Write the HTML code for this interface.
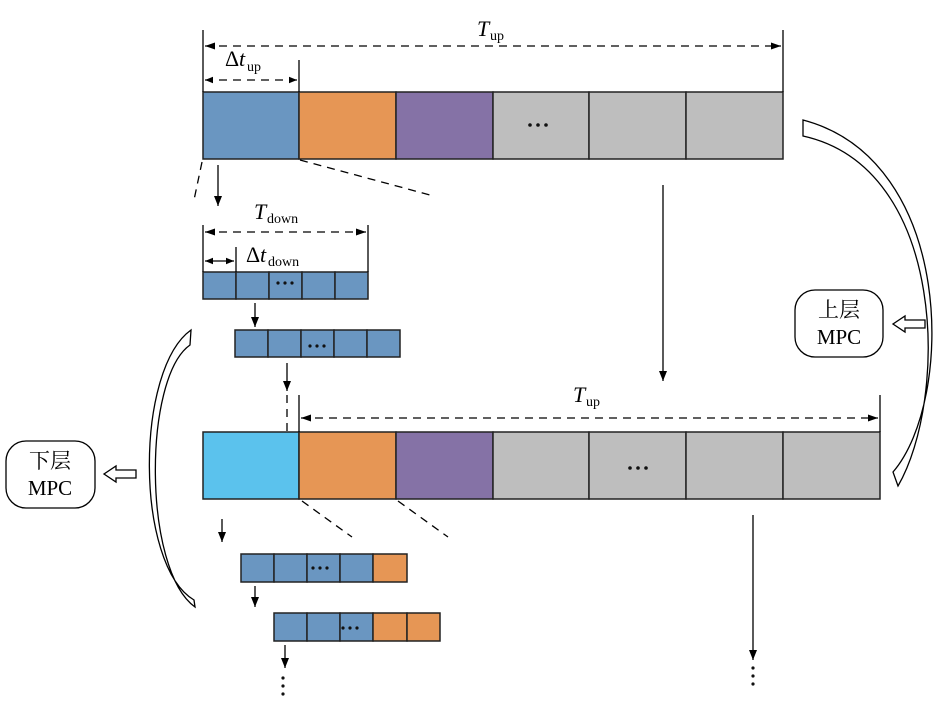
<!DOCTYPE html>
<html><head><meta charset="utf-8"><style>body{margin:0;background:#fff}svg{display:block}text{font-family:"Liberation Serif","Noto Serif CJK SC",serif}</style></head><body>
<svg width="945" height="711" viewBox="0 0 945 711" xmlns="http://www.w3.org/2000/svg">
<defs>
<marker id="a" viewBox="0 0 10 10" refX="10" refY="5" markerWidth="14" markerHeight="10" orient="auto-start-reverse" markerUnits="userSpaceOnUse"><path d="M0,1 L10,5 L0,9 z" fill="#000"/></marker>
<marker id="c" viewBox="0 0 10 10" refX="10" refY="5" markerWidth="10" markerHeight="8" orient="auto-start-reverse" markerUnits="userSpaceOnUse"><path d="M0,1 L10,5 L0,9 z" fill="#000"/></marker>
<marker id="b" viewBox="0 0 10 10" refX="10" refY="5" markerWidth="20" markerHeight="10" orient="auto-start-reverse" markerUnits="userSpaceOnUse"><path d="M0,1.5 L10,5 L0,8.5 z" fill="#000"/></marker>
</defs>
<g stroke="#222" stroke-width="1.5">
<rect x="203" y="92" width="96" height="67" fill="#6a96c1"/>
<rect x="299" y="92" width="97" height="67" fill="#e69655"/>
<rect x="396" y="92" width="97" height="67" fill="#8572a6"/>
<rect x="493" y="92" width="96" height="67" fill="#bebebe"/>
<rect x="589" y="92" width="97" height="67" fill="#bebebe"/>
<rect x="686" y="92" width="97" height="67" fill="#bebebe"/>
<rect x="203" y="432" width="96" height="67" fill="#5bc2ed"/>
<rect x="299" y="432" width="97" height="67" fill="#e69655"/>
<rect x="396" y="432" width="97" height="67" fill="#8572a6"/>
<rect x="493" y="432" width="96" height="67" fill="#bebebe"/>
<rect x="589" y="432" width="97" height="67" fill="#bebebe"/>
<rect x="686" y="432" width="97" height="67" fill="#bebebe"/>
<rect x="783" y="432" width="97" height="67" fill="#bebebe"/>
<g fill="#6a96c1">
<rect x="203" y="272" width="33" height="27"/><rect x="236" y="272" width="33" height="27"/><rect x="269" y="272" width="33" height="27"/><rect x="302" y="272" width="33" height="27"/><rect x="335" y="272" width="33" height="27"/>
<rect x="235" y="330" width="33" height="27"/><rect x="268" y="330" width="33" height="27"/><rect x="301" y="330" width="33" height="27"/><rect x="334" y="330" width="33" height="27"/><rect x="367" y="330" width="33" height="27"/>
<rect x="241" y="554" width="33" height="28"/><rect x="274" y="554" width="33" height="28"/><rect x="307" y="554" width="33" height="28"/><rect x="340" y="554" width="33" height="28"/>
<rect x="274" y="613" width="33" height="28"/><rect x="307" y="613" width="33" height="28"/><rect x="340" y="613" width="33" height="28"/>
</g>
<g fill="#e69655">
<rect x="373" y="554" width="34" height="28"/>
<rect x="373" y="613" width="34" height="28"/><rect x="407" y="613" width="33" height="28"/>
</g>
</g>
<g stroke="#000" stroke-width="1.3" fill="none">
<line x1="203" y1="30" x2="203" y2="92"/><line x1="783" y1="30" x2="783" y2="92"/>
<line x1="299" y1="60" x2="299" y2="92"/>
<line x1="203" y1="225" x2="203" y2="272"/><line x1="368" y1="225" x2="368" y2="272"/>
<line x1="236" y1="247" x2="236" y2="272"/>
<line x1="299" y1="395" x2="299" y2="432"/><line x1="880" y1="395" x2="880" y2="432"/>
<g stroke-dasharray="8,6">
<line x1="205" y1="46" x2="781" y2="46" marker-start="url(#b)" marker-end="url(#b)"/>
<line x1="205" y1="80" x2="297" y2="80" marker-start="url(#c)" marker-end="url(#c)"/>
<line x1="205" y1="232" x2="366" y2="232" marker-start="url(#b)" marker-end="url(#b)"/>
<line x1="301" y1="418" x2="878" y2="418" marker-start="url(#b)" marker-end="url(#b)"/>
<line x1="202" y1="162" x2="194" y2="200"/>
<line x1="300" y1="160" x2="430" y2="195"/>
<line x1="287" y1="395" x2="287" y2="432"/>
<line x1="302" y1="501" x2="352" y2="537"/>
<line x1="398" y1="501" x2="448" y2="537"/>
</g>
<line x1="205" y1="261" x2="234" y2="261" marker-start="url(#c)" marker-end="url(#c)"/>
<line x1="218" y1="165" x2="218" y2="206" marker-end="url(#a)"/>
<line x1="255" y1="303" x2="255" y2="327" marker-end="url(#a)"/>
<line x1="287" y1="363" x2="287" y2="391" marker-end="url(#a)"/>
<line x1="663" y1="185" x2="663" y2="381" marker-end="url(#a)"/>
<line x1="222" y1="519" x2="222" y2="542" marker-end="url(#a)"/>
<line x1="255" y1="586" x2="255" y2="607" marker-end="url(#a)"/>
<line x1="285" y1="645" x2="285" y2="668" marker-end="url(#a)"/>
<line x1="753" y1="515" x2="753" y2="660" marker-end="url(#a)"/>
<path d="M803,120 C955,160 955,400 893,472 L898,486 C948,400 948,168 803,136 Z" fill="#fff"/>
<path d="M191,330 C135,370 135,565 194,600 L195,607 C143,570 143,378 190,345 Z" fill="#fff"/>
<rect x="795" y="290" width="88" height="67" rx="20" fill="#fff"/>
<rect x="6" y="441" width="89" height="67" rx="20" fill="#fff"/>
<path d="M925,320 L905,320 L905,316 L893,324 L905,332 L905,328 L925,328 Z" fill="#fff"/>
<path d="M136,470 L116,470 L116,466 L104,474 L116,482 L116,478 L136,478 Z" fill="#fff"/>
</g>
<g fill="#111">
<circle cx="530" cy="125" r="1.8"/><circle cx="538" cy="125" r="1.8"/><circle cx="546" cy="125" r="1.8"/>
<circle cx="630" cy="468" r="1.8"/><circle cx="638" cy="468" r="1.8"/><circle cx="646" cy="468" r="1.8"/>
<circle cx="278" cy="283" r="1.6"/><circle cx="285" cy="283" r="1.6"/><circle cx="292" cy="283" r="1.6"/>
<circle cx="310" cy="346" r="1.6"/><circle cx="317" cy="346" r="1.6"/><circle cx="324" cy="346" r="1.6"/>
<circle cx="313" cy="568" r="1.6"/><circle cx="320" cy="568" r="1.6"/><circle cx="327" cy="568" r="1.6"/>
<circle cx="343" cy="628" r="1.6"/><circle cx="350" cy="628" r="1.6"/><circle cx="357" cy="628" r="1.6"/>
<circle cx="283" cy="678" r="1.6"/><circle cx="283" cy="686" r="1.6"/><circle cx="283" cy="694" r="1.6"/>
<circle cx="753" cy="668" r="1.6"/><circle cx="753" cy="676" r="1.6"/><circle cx="753" cy="684" r="1.6"/>
</g>
<g font-size="22" fill="#000">
<text x="477" y="36" font-style="italic">T</text><text x="490" y="40" font-size="14">up</text>
<text x="225" y="66">Δ</text><text x="239" y="66" font-style="italic">t</text><text x="247" y="71" font-size="14">up</text>
<text x="254" y="219" font-style="italic">T</text><text x="267" y="223" font-size="14">down</text>
<text x="246" y="262">Δ</text><text x="260" y="262" font-style="italic">t</text><text x="268" y="266" font-size="14">down</text>
<text x="573" y="402" font-style="italic">T</text><text x="586" y="406" font-size="14">up</text>
<text x="839" y="317" text-anchor="middle" font-size="21">上层</text>
<text x="839" y="344" text-anchor="middle" font-size="21">MPC</text>
<text x="50" y="468" text-anchor="middle" font-size="21">下层</text>
<text x="50" y="495" text-anchor="middle" font-size="21">MPC</text>
</g>
</svg>
</body></html>
